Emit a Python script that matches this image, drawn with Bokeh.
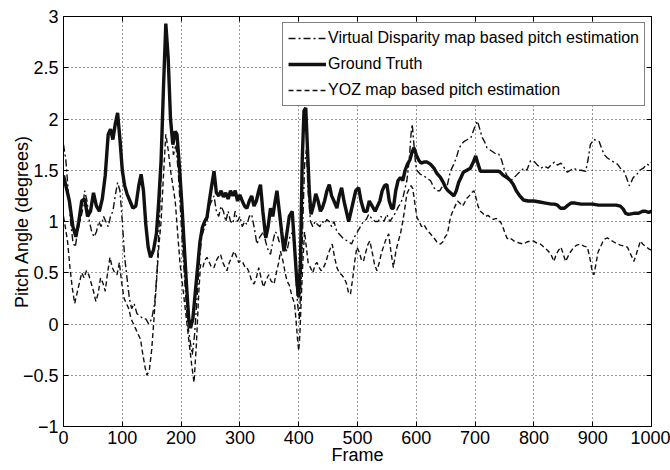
from bokeh.plotting import figure
from bokeh.models import LinearAxis, Range1d, FixedTicker, Legend, LegendItem
from bokeh.embed import file_html
from bokeh.resources import INLINE

x_ticks = [0, 100, 200, 300, 400, 500, 600, 700, 800, 900, 1000]
y_ticks = [-1.0, -0.5, 0.0, 0.5, 1.0, 1.5, 2.0, 2.5, 3.0]
y_tick_labels = ["\u22121", "\u22120.5", "0", "0.5", "1", "1.5", "2", "2.5", "3"]

series_names = ["Virtual Disparity map based pitch estimation", "Ground Truth",
                "YOZ map based pitch estimation"]

gt_frame = [0, 4, 10, 16, 21, 26, 31, 36, 41, 46, 51, 56, 61, 66, 71, 76, 80, 84, 88, 92, 96, 100,
            104, 108, 113, 118, 123, 128, 132, 136, 140, 144, 148, 153, 158, 162, 166, 170, 174, 178,
            182, 186, 190, 193, 197, 201, 205, 209, 213, 216, 220, 224, 228, 232, 236, 240, 244, 248,
            252, 256, 260, 264, 268, 272, 276, 280, 284, 288, 292, 296, 300, 304, 308, 312, 316, 320,
            324, 328, 332, 335, 339, 344, 348, 352, 356, 360, 363, 367, 371, 375, 379, 384, 389, 393,
            397, 400, 403, 406, 409, 412, 415, 418, 421, 425, 429, 433, 437, 440, 444, 448, 452, 456,
            460, 465, 469, 473, 477, 481, 485, 489, 493, 497, 502, 506, 511, 516, 520, 525, 530, 534,
            538, 542, 546, 550, 554, 558, 561, 565, 569, 573, 577, 581, 585, 589, 593, 596, 600, 604,
            608, 613, 618, 624, 630, 635, 641, 646, 650, 654, 658, 664, 668, 672, 676, 680, 686, 692,
            697, 701, 705, 709, 715, 720, 730, 740, 743, 748, 754, 760, 765, 770, 776, 782, 790, 800,
            810, 820, 830, 835, 840, 845, 852, 858, 863, 870, 880, 891, 900, 910, 920, 930, 940, 947,
            952, 956, 961, 970, 978, 985, 990, 995, 1000]
gt_pitch = [1.45, 1.35, 1.2, 0.95, 0.85, 1.0, 1.2, 1.22, 1.05, 1.1, 1.28, 1.15, 1.1, 1.22, 1.45, 1.85,
            1.9, 1.8, 1.95, 2.06, 1.8, 1.5, 1.35, 1.27, 1.2, 1.13, 1.15, 1.35, 1.46, 1.3, 0.97, 0.75,
            0.65, 0.72, 0.88, 1.2, 1.6, 2.3, 2.93, 2.6, 2.0, 1.75, 1.88, 1.85, 1.55, 1.2, 0.8, 0.4,
            0.05, -0.04, 0.05, 0.3, 0.55, 0.8, 0.94, 1.0, 1.04, 1.2, 1.35, 1.49, 1.28, 1.25, 1.3, 1.24,
            1.28, 1.22, 1.3, 1.25, 1.3, 1.2, 1.26, 1.2, 1.15, 1.13, 1.2, 1.25, 1.15, 1.2, 1.3, 1.36,
            1.1, 0.84, 0.95, 1.13, 1.05, 1.2, 1.3, 1.1, 0.9, 0.71, 0.85, 1.05, 1.1, 0.75, 0.4, 0.26,
            0.6, 1.6, 2.08, 2.11, 1.7, 1.3, 1.07, 1.15, 1.27, 1.2, 1.1, 1.13, 1.2, 1.3, 1.36, 1.25,
            1.2, 1.13, 1.25, 1.33, 1.2, 1.1, 1.0, 1.1, 1.2, 1.3, 1.33, 1.2, 1.1, 1.1, 1.2, 1.15, 1.1,
            1.15, 1.2, 1.3, 1.35, 1.36, 1.2, 1.13, 1.13, 1.3, 1.4, 1.43, 1.4, 1.5, 1.56, 1.6, 1.68,
            1.72, 1.65, 1.6, 1.57, 1.58, 1.58, 1.56, 1.52, 1.47, 1.43, 1.38, 1.33, 1.3, 1.28, 1.25,
            1.3, 1.38, 1.43, 1.48, 1.5, 1.52, 1.58, 1.64, 1.56, 1.49, 1.49, 1.49, 1.49, 1.49, 1.48,
            1.45, 1.43, 1.4, 1.36, 1.3, 1.25, 1.21, 1.2, 1.2, 1.19, 1.18, 1.17, 1.17, 1.16, 1.13,
            1.13, 1.16, 1.18, 1.18, 1.17, 1.17, 1.17, 1.16, 1.16, 1.16, 1.16, 1.15, 1.12, 1.08, 1.07,
            1.08, 1.08, 1.1, 1.1, 1.09, 1.1]

vd_frame = [0, 4, 8, 12, 16, 20, 24, 28, 32, 36, 40, 44, 48, 52, 56, 60, 64, 68, 72, 76, 80, 84, 88,
            92, 96, 100, 104, 108, 112, 116, 120, 125, 130, 135, 140, 145, 150, 155, 159, 163, 167,
            171, 175, 179, 183, 187, 191, 195, 199, 203, 207, 211, 215, 219, 223, 227, 231, 235, 240,
            244, 248, 252, 256, 260, 264, 268, 272, 276, 280, 284, 288, 292, 296, 300, 304, 308, 312,
            316, 320, 324, 329, 334, 340, 344, 348, 352, 356, 360, 363, 367, 372, 376, 380, 385, 390,
            394, 398, 401, 404, 407, 410, 413, 416, 420, 424, 428, 432, 436, 440, 444, 448, 452, 456,
            460, 465, 470, 475, 480, 485, 490, 495, 500, 505, 510, 515, 519, 524, 530, 535, 540, 545,
            550, 555, 561, 566, 570, 573, 578, 584, 588, 591, 593, 596, 599, 602, 607, 612, 618, 624,
            630, 635, 640, 645, 650, 653, 658, 663, 668, 672, 676, 681, 687, 693, 698, 704, 708, 712,
            716, 720, 725, 730, 735, 740, 745, 750, 754, 757, 760, 765, 770, 777, 783, 788, 794, 800,
            806, 812, 818, 824, 829, 835, 840, 846, 852, 857, 862, 868, 874, 880, 888, 892, 896, 902,
            907, 911, 916, 920, 925, 930, 936, 942, 947, 953, 958, 962, 964, 968, 972, 975, 980, 986,
            992, 996, 1000]
vd_pitch = [1.75, 1.6, 1.3, 1.0, 0.8, 0.75, 0.9, 1.0, 1.1, 1.3, 1.2, 1.0, 0.9, 0.85, 0.9, 1.0, 0.95,
            1.05, 1.0, 0.95, 1.05, 1.1, 1.25, 1.38, 1.3, 1.0, 0.65, 0.45, 0.25, 0.15, 0.2, 0.1, 0.08,
            0.05, 0.05, 0.0, 0.05, 0.2, 0.5, 1.0, 1.6, 2.4, 2.85, 2.5, 1.9, 1.65, 1.75, 1.5, 1.1, 0.7,
            0.35, 0.0, -0.15, -0.3, -0.1, 0.25, 0.6, 0.85, 0.95, 1.0, 1.15, 1.2, 1.25, 1.1, 1.05, 1.15,
            1.1, 1.0, 1.1, 1.0, 0.98, 1.1, 1.0, 1.05, 0.95, 1.0, 0.97, 1.05, 1.07, 0.95, 0.78, 0.85,
            0.9, 0.8, 0.72, 0.68, 0.8, 0.9, 0.88, 0.8, 0.85, 0.75, 0.71, 0.85, 0.9, 0.6, 0.2, 0.05,
            0.4, 1.0, 1.55, 1.7, 1.3, 1.0, 0.95, 1.0, 0.97, 0.95, 1.0, 0.98, 1.02, 1.0, 0.95, 1.0,
            0.9, 0.87, 0.84, 0.82, 0.8, 0.78, 0.85, 0.9, 0.95, 1.0, 1.02, 1.07, 1.03, 1.0, 1.0, 1.05,
            1.0, 1.07, 1.0, 1.05, 1.1, 1.15, 1.17, 1.25, 1.4, 1.6, 1.85, 1.95, 1.75, 1.55, 1.49, 1.46,
            1.45, 1.42, 1.4, 1.33, 1.3, 1.3, 1.35, 1.33, 1.36, 1.49, 1.55, 1.62, 1.7, 1.75, 1.78, 1.8,
            1.82, 1.9, 1.98, 1.9, 1.82, 1.78, 1.72, 1.7, 1.68, 1.66, 1.66, 1.6, 1.5, 1.45, 1.43, 1.4,
            1.42, 1.45, 1.49, 1.52, 1.5, 1.59, 1.59, 1.55, 1.52, 1.54, 1.52, 1.55, 1.58, 1.55, 1.57,
            1.52, 1.48, 1.5, 1.52, 1.5, 1.5, 1.49, 1.6, 1.75, 1.8, 1.79, 1.78, 1.7, 1.65, 1.62, 1.6,
            1.58, 1.56, 1.52, 1.49, 1.42, 1.35, 1.36, 1.42, 1.45, 1.46, 1.5, 1.52, 1.56, 1.55, 1.58]

yoz_frame = [0, 3, 7, 11, 15, 19, 23, 27, 31, 35, 39, 43, 47, 51, 55, 59, 63, 67, 71, 75, 79, 83, 87,
             91, 95, 99, 103, 107, 111, 115, 119, 123, 127, 131, 135, 139, 142, 146, 150, 154, 158,
             162, 166, 170, 174, 178, 182, 186, 190, 194, 198, 202, 206, 210, 214, 218, 222, 226, 230,
             233, 237, 240, 244, 248, 252, 256, 260, 264, 267, 271, 275, 278, 282, 286, 290, 294, 298,
             301, 305, 309, 312, 316, 320, 324, 328, 332, 336, 340, 344, 349, 353, 358, 362, 366, 369,
             373, 377, 380, 384, 389, 393, 396, 398, 400, 402, 404, 407, 410, 413, 416, 420, 424, 428,
             431, 435, 438, 442, 446, 450, 454, 457, 461, 465, 469, 473, 477, 481, 485, 488, 492, 495,
             499, 503, 507, 510, 514, 518, 521, 525, 529, 533, 537, 541, 544, 548, 553, 557, 561, 565,
             569, 573, 577, 581, 584, 588, 591, 594, 597, 601, 605, 609, 613, 618, 624, 630, 635, 641,
             645, 649, 653, 658, 662, 666, 670, 674, 678, 681, 685, 690, 694, 698, 702, 705, 709, 713,
             718, 722, 726, 731, 736, 740, 743, 747, 750, 754, 758, 762, 766, 770, 775, 782, 788, 794,
             799, 805, 811, 817, 823, 829, 834, 838, 842, 846, 850, 854, 858, 862, 868, 873, 879, 885,
             891, 895, 899, 902, 906, 909, 913, 917, 921, 925, 930, 936, 942, 947, 953, 959, 963, 967,
             970, 974, 978, 981, 985, 989, 992, 996, 1000]
yoz_pitch = [1.05, 0.95, 0.8, 0.55, 0.35, 0.2, 0.3, 0.4, 0.5, 0.45, 0.52, 0.48, 0.4, 0.32, 0.22, 0.3,
             0.45, 0.4, 0.32, 0.5, 0.65, 0.55, 0.5, 0.48, 0.6, 0.4, 0.25, 0.2, 0.15, 0.05, 0.0, -0.05,
             -0.1, -0.15, -0.3, -0.43, -0.5, -0.45, -0.25, 0.06, 0.4, 0.75, 1.0, 1.45, 1.85, 1.7, 1.5,
             1.35, 1.2, 0.9, 0.6, 0.4, 0.2, 0.0, -0.2, -0.4, -0.57, -0.2, 0.3, 0.58, 0.55, 0.62, 0.65,
             0.6, 0.55, 0.55, 0.62, 0.66, 0.68, 0.6, 0.55, 0.52, 0.6, 0.65, 0.71, 0.66, 0.6, 0.62, 0.6,
             0.55, 0.55, 0.5, 0.42, 0.39, 0.45, 0.55, 0.45, 0.36, 0.42, 0.48, 0.42, 0.39, 0.5, 0.6,
             0.71, 0.62, 0.5, 0.42, 0.38, 0.26, 0.2, 0.0, -0.15, -0.26, -0.1, 0.2, 0.6, 0.9, 0.75, 0.6,
             0.55, 0.5, 0.58, 0.6, 0.55, 0.52, 0.55, 0.6, 0.68, 0.74, 0.78, 0.65, 0.55, 0.5, 0.48,
             0.45, 0.4, 0.3, 0.29, 0.45, 0.6, 0.75, 0.7, 0.62, 0.61, 0.7, 0.78, 0.81, 0.7, 0.58, 0.52,
             0.6, 0.7, 0.75, 0.82, 0.88, 0.7, 0.55, 0.7, 0.8, 0.88, 1.0, 1.15, 1.27, 1.32, 1.35, 1.32,
             1.2, 1.04, 1.0, 0.95, 0.97, 0.92, 0.88, 0.84, 0.8, 0.78, 0.8, 0.85, 0.88, 1.04, 1.1, 1.15,
             1.2, 1.18, 1.15, 1.17, 1.22, 1.25, 1.28, 1.3, 1.22, 1.15, 1.1, 1.08, 1.05, 1.06, 1.04,
             1.02, 1.03, 1.0, 1.0, 0.95, 0.9, 0.84, 0.82, 0.83, 0.81, 0.8, 0.79, 0.78, 0.8, 0.81, 0.81,
             0.79, 0.78, 0.75, 0.72, 0.68, 0.61, 0.68, 0.72, 0.75, 0.68, 0.61, 0.66, 0.7, 0.75, 0.77,
             0.78, 0.76, 0.75, 0.65, 0.52, 0.48, 0.6, 0.7, 0.75, 0.8, 0.83, 0.84, 0.82, 0.8, 0.78,
             0.77, 0.76, 0.75, 0.7, 0.65, 0.61, 0.68, 0.75, 0.81, 0.78, 0.76, 0.75, 0.73, 0.72]

FONT = "Liberation Sans"

p = figure(width=670, height=470, output_backend="svg", toolbar_location=None,
           x_range=Range1d(0, 1000), y_range=Range1d(-1, 3),
           min_border_left=63, min_border_right=19, min_border_top=16, min_border_bottom=44,
           background_fill_color="white", border_fill_color="white")

p.outline_line_color = "black"
p.outline_line_width = 1

r_vd = p.line(vd_frame, vd_pitch, line_color="#111111", line_width=1.4, line_dash="7 3 2 3")
r_yoz = p.line(yoz_frame, yoz_pitch, line_color="#111111", line_width=1.4, line_dash="5 3")
r_gt = p.line(gt_frame, gt_pitch, line_color="#111111", line_width=3.4)

for ax in (p.xaxis[0], p.yaxis[0]):
    ax.major_tick_in = 5
    ax.major_tick_out = 0
    ax.minor_tick_in = 0
    ax.minor_tick_out = 0
    ax.axis_line_color = "black"
    ax.major_tick_line_color = "black"
    ax.major_label_text_font = FONT
    ax.major_label_text_font_size = "18px"
    ax.major_label_text_color = "black"
    ax.axis_label_text_font = FONT
    ax.axis_label_text_font_style = "normal"
    ax.axis_label_text_color = "black"
    ax.axis_label_text_font_size = "18px"

p.xaxis.ticker = FixedTicker(ticks=x_ticks)
p.yaxis.ticker = FixedTicker(ticks=y_ticks)
p.yaxis.major_label_overrides = {v: s for v, s in zip(y_ticks, y_tick_labels)}
p.xaxis.axis_label = "Frame"
p.yaxis.axis_label = "Pitch Angle (degrees)"
p.xaxis.major_label_standoff = 4
p.yaxis.major_label_standoff = 5
p.xaxis.axis_label_standoff = -2
p.yaxis.axis_label_standoff = -12

top_ax = LinearAxis(ticker=FixedTicker(ticks=x_ticks), major_tick_in=5, major_tick_out=0,
                    minor_tick_in=0, minor_tick_out=0, major_label_text_font_size="1px",
                    major_label_overrides={t: "" for t in x_ticks},
                    major_label_standoff=0, axis_line_color="black")
right_ax = LinearAxis(ticker=FixedTicker(ticks=y_ticks), major_tick_in=5, major_tick_out=0,
                      minor_tick_in=0, minor_tick_out=0, major_label_text_font_size="1px",
                      major_label_overrides={t: "" for t in y_ticks},
                      major_label_standoff=0, axis_line_color="black")
p.add_layout(top_ax, "above")
p.add_layout(right_ax, "right")

for g in (p.xgrid[0], p.ygrid[0]):
    g.grid_line_color = "black"
    g.grid_line_dash = "1 3"
    g.grid_line_width = 1
    g.grid_line_alpha = 0.8
p.xgrid.ticker = FixedTicker(ticks=x_ticks)
p.ygrid.ticker = FixedTicker(ticks=y_ticks)

legend = Legend(items=[LegendItem(label=series_names[0], renderers=[r_vd]),
                       LegendItem(label=series_names[1], renderers=[r_gt]),
                       LegendItem(label=series_names[2], renderers=[r_yoz])],
                location="top_right", margin=6, padding=5, spacing=6,
                glyph_width=38, glyph_height=20, label_height=20, label_standoff=2,
                label_text_font=FONT, label_text_font_size="16px", label_text_color="black",
                border_line_color="black", border_line_width=1, background_fill_color="white",
                background_fill_alpha=1)
p.add_layout(legend, "center")

open("out.html", "w").write(file_html(p, INLINE))
